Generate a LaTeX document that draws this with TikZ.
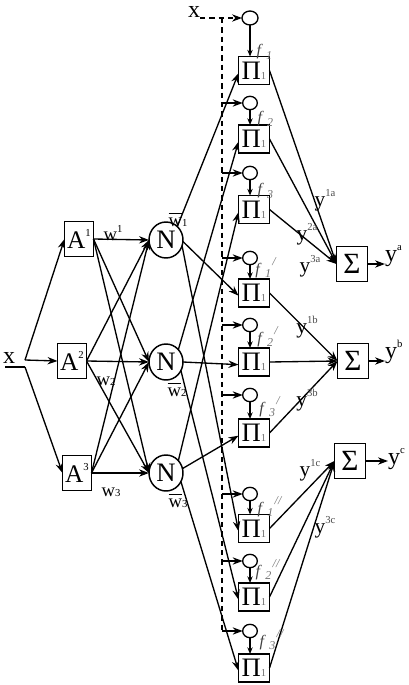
\documentclass[tikz,border=0pt]{standalone}
\usepackage{fontspec}
\setmainfont{Liberation Serif}
\usetikzlibrary{arrows.meta,shapes.geometric}
\newcommand{\ovl}[1]{\vbox{\hrule height 0.7pt\kern 2.5pt\hbox{#1}}}
\newcommand{\sml}[1]{{\fontsize{8}{8}\selectfont #1}}
\newcommand{\supx}[1]{\raisebox{0.45em}{\fontsize{8}{8}\selectfont #1}}
\newcommand{\supy}[1]{\raisebox{0.45em}{\fontsize{8}{8}\selectfont\color{black!70}#1}}
\newcommand{\flab}[2]{\textit{f}\kern2.5pt\raisebox{-0.2em}{\fontsize{9}{9}\selectfont\color{black!55}\textit{#1}}\kern1pt\raisebox{0.55em}{\fontsize{9}{9}\selectfont\color{black!55}\textit{#2}}}
\begin{document}
\begin{tikzpicture}[x=0.75pt,y=-0.75pt,
  every node/.style={inner sep=0pt,outer sep=0pt},
  ln/.style={line width=1pt},
  conn/.style={line width=1pt,-{Stealth[length=7.5pt,width=5.5pt]}},
  sconn/.style={line width=1pt,-{Stealth[length=5pt,width=4pt]}},
  dconn/.style={line width=1pt,dash pattern=on 4pt off 3pt,-{Stealth[length=7.5pt,width=5.5pt]}},
  abox/.style={draw,line width=1.2pt,minimum width=21.75pt,minimum height=26.25pt,font=\fontsize{19}{20}\selectfont},
  nnode/.style={draw,ellipse,line width=1.1pt,minimum width=25.5pt,minimum height=27pt,font=\fontsize{20}{20}\selectfont},
  pbox/.style={draw,line width=1.2pt,minimum width=23.25pt,minimum height=21pt,font=\fontsize{20}{20}\selectfont},
  sbox/.style={draw,line width=1.2pt,minimum width=23.25pt,minimum height=26.25pt,font=\fontsize{22}{22}\selectfont},
  sc/.style={draw,ellipse,line width=1pt,minimum width=11pt,minimum height=10pt},
  lab/.style={font=\fontsize{18}{18}\selectfont},
  wlab/.style={font=\fontsize{14}{14}\selectfont},
  ylab/.style={font=\fontsize{16}{16}\selectfont},
  flabel/.style={font=\fontsize{12}{12}\selectfont,text=black!75},
]
\useasboundingbox (0,0) rectangle (409,685);

% input x
\node[lab] (xin) at (9,358) {x};
\coordinate (xa) at (25,360);
\coordinate (xb) at (25,367);
\coordinate (xu) at (5,367);

% A boxes
\node[abox] (A1) at (79,239) {A\supx{1}};
\node[abox] (A2) at (72,361) {A\supx{2}};
\node[abox] (A3) at (77,473) {A\supx{3}};

% N nodes
\node[nnode] (N1) at (166,240) {N};
\node[nnode] (N2) at (166,362) {N};
\node[nnode] (N3) at (166,473) {N};

% Pi boxes
\foreach \i/\y in {1/70.5,2/139,3/209.5,4/293,5/362,6/433,7/528.5,8/597,9/668}
  \node[pbox] (P\i) at (254,\y) {Π\textcolor{black!55}{\sml{1}}};

% small circles
\node[sc,minimum width=12pt,minimum height=10.5pt] (c1) at (250,18) {};
\foreach \i/\y in {2/103,3/173,4/258,5/325,6/395,7/494,8/561,9/631}
  \node[sc] (c\i) at (250,\y) {};

% Sigma boxes
\node[sbox] (Sa) at (352,264) {Σ};
\node[sbox] (Sb) at (353,361) {Σ};
\node[sbox] (Sc) at (350,461) {Σ};

% outputs
\node[lab,anchor=base west] (ya) at (385,261) {y\supx{a}};
\node[lab,anchor=base west] (yb) at (385,358) {y\supx{b}};
\node[lab,anchor=base west] (yc) at (388,464) {y\supx{c}};

% top x and dashed line
\node[lab] (xtop) at (194,12) {x};
\coordinate (xt) at (200,18);
\coordinate (dtop) at (222,18);
\coordinate (dbot) at (222,631);
\draw[dconn] (xt) -- (c1.west);
\draw[ln,dash pattern=on 4pt off 3pt] (dtop) -- (dbot);
\foreach \i in {2,...,9}
  \draw[conn] (dtop |- c\i) -- (c\i.west);

% circle -> Pi
\foreach \i in {1,...,9}
  \draw[sconn] (c\i.south) -- (c\i.south |- P\i.north);

% x -> A
\draw[ln] (xu) -- (xb);
\draw[conn] (xa) -- (A1.west);
\draw[conn] (xa) -- (A2.west);
\draw[conn] (xb) -- (A3.west);

% A -> N
\foreach \i in {1,2,3}
  \foreach \j in {1,2,3}
    \draw[conn] (A\i.east) -- (N\j.west);

% N -> Pi
\draw[conn] (N1.50) -- ([yshift=-2pt]P1.west);
\draw[conn] (N1.-5) -- ([yshift=-2pt]P4.west);
\draw[conn] (N1.-20) -- ([yshift=-2pt]P7.west);
\draw[conn] (N2.45) -- ([yshift=-2pt]P2.west);
\draw[conn] (N2.east) -- ([yshift=-2pt]P5.west);
\draw[conn] (N2.-30) -- ([yshift=-2pt]P8.west);
\draw[conn] (N3.45) -- ([yshift=-2pt]P3.west);
\draw[conn] (N3.15) -- ([yshift=-2pt]P6.west);
\draw[conn] (N3.-30) -- ([yshift=-2pt]P9.west);

% Pi -> Sigma
\foreach \i in {1,2,3} \draw[conn] (P\i.east) -- (Sa.west);
\foreach \i in {4,5,6} \draw[conn] (P\i.east) -- (Sb.west);
\foreach \i in {7,8,9} \draw[conn] (P\i.east) -- (Sc.west);

% Sigma -> outputs
\draw[conn] (Sa.east) -- (Sa.east -| ya.west);
\draw[conn] (Sb.east) -- (Sb.east -| yb.west);
\draw[conn] (Sc.east) -- (Sc.east -| yc.west);

% weight labels
\node[wlab] (w1) at (113,233) {w\supx{1}};
\node[wlab] (w2) at (106,381) {w\sml{2}};
\node[wlab] (w3) at (111,492) {w\sml{3}};
\node[wlab] (wb1) at (178,220) {\ovl{w}\sml{1}};
\node[wlab] (wb2) at (177,390) {\ovl{w}\sml{2}};
\node[wlab] (wb3) at (178,501) {\ovl{w}\sml{3}};

% y labels on lines
\node[ylab] (y1a) at (325,200) {y\supy{1a}};
\node[ylab] (y2a) at (307,234) {y\supy{2a}};
\node[ylab] (y3a) at (310,266) {y\supy{3a}};
\node[ylab] (y1b) at (307,327) {y\supy{1b}};
\node[ylab] (y3b) at (307,400) {y\supy{3b}};
\node[ylab] (y1c) at (310,470) {y\supy{1c}};
\node[ylab] (y3c) at (325,527) {y\supy{3c}};

% f labels
\node[flabel] (f1) at (265,52) {\flab{1}{}};
\node[flabel] (f2) at (266,119) {\flab{2}{}};
\node[flabel] (f3) at (266,191) {\flab{3}{}};
\node[flabel] (f1p) at (266,268) {\flab{1}{/}};
\node[flabel] (f2p) at (268,337) {\flab{2}{/}};
\node[flabel] (f3p) at (270,407) {\flab{3}{/}};
\node[flabel] (f1pp) at (270,507) {\flab{1}{//}};
\node[flabel] (f2pp) at (268,570) {\flab{2}{//}};
\node[flabel] (f3pp) at (272,640) {\flab{3}{//}};
\end{tikzpicture}
\end{document}
